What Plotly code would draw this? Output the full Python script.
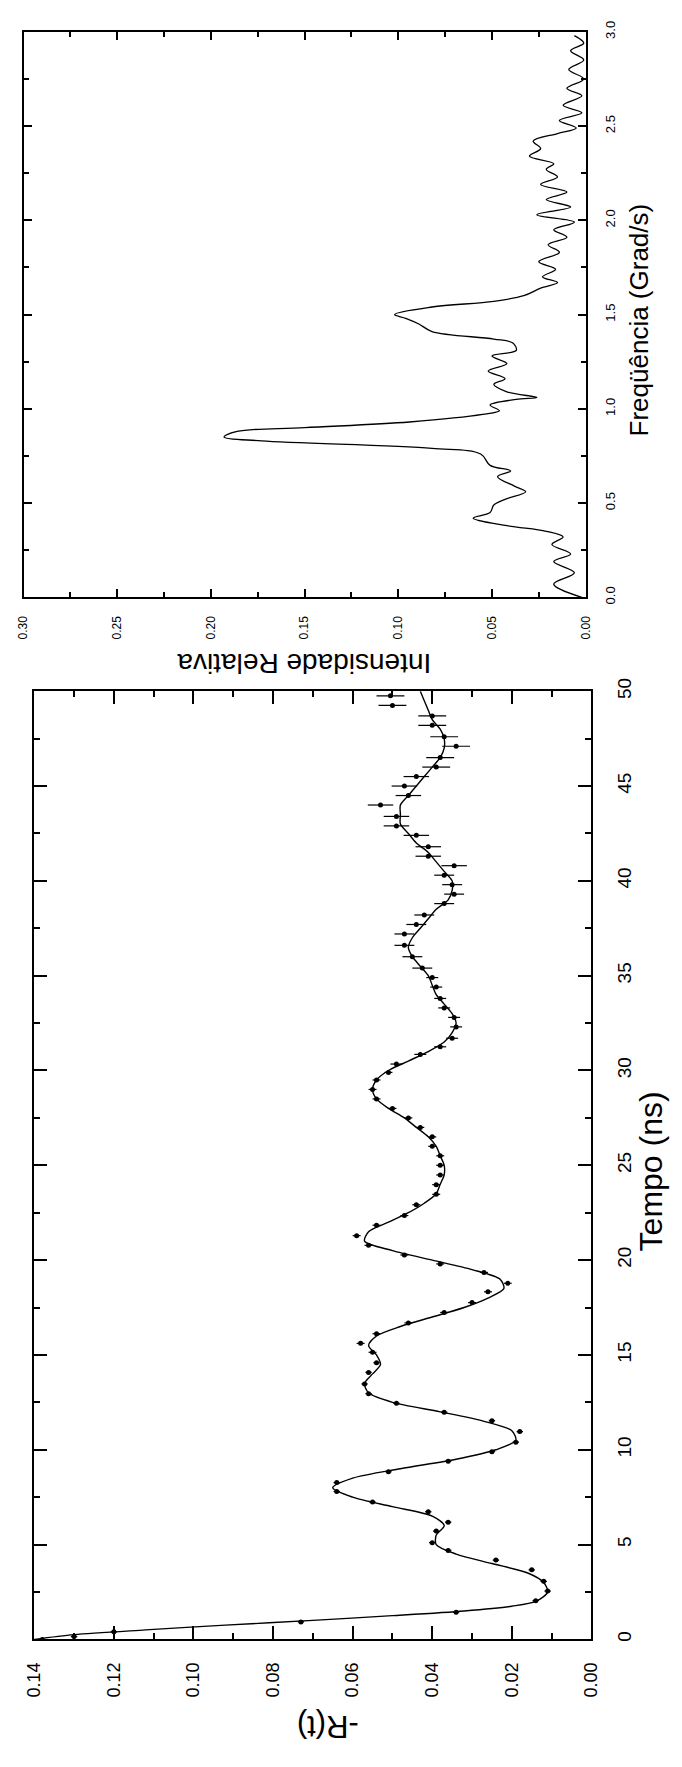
import plotly.graph_objects as go

W, H = 682, 1767

# ---------------- data: -R(t) vs Tempo ----------------
r_t = [0.0, 0.15, 0.4, 0.92, 1.43, 2.04, 2.55, 3.06, 3.67, 4.18,
       4.69, 5.1, 5.71, 6.18, 6.73, 7.24, 7.8, 8.27, 8.84, 9.39,
       9.9, 10.4, 10.96, 11.53, 11.98, 12.45, 12.96, 13.47, 14.08, 14.59,
       15.14, 15.61, 16.12, 16.69, 17.24, 17.76, 18.33, 18.78, 19.35, 19.8,
       20.27, 20.78, 21.29, 21.84, 22.35, 22.92, 23.47, 23.98, 24.49, 25.0,
       25.5, 26.0, 26.5, 27.0, 27.5, 28.0, 28.5, 29.0, 29.5, 29.9,
       30.34, 30.85, 31.25, 31.7, 32.3, 32.8, 33.3, 33.8, 34.4, 34.9,
       35.4, 36.0, 36.6, 37.2, 37.7, 38.2, 38.8, 39.3, 39.8, 40.3,
       40.8, 41.3, 41.8, 42.4, 42.9, 43.4, 44.0, 44.5, 45.0, 45.5,
       46.0, 46.5, 47.1, 47.6, 48.2, 48.7, 49.25, 49.76]
r_v = [0.138, 0.130, 0.120, 0.073, 0.034, 0.014, 0.011, 0.012, 0.015, 0.024,
       0.036, 0.040, 0.039, 0.036, 0.041, 0.055, 0.064, 0.064, 0.051, 0.036,
       0.025, 0.019, 0.018, 0.025, 0.037, 0.049, 0.056, 0.057, 0.056, 0.054,
       0.055, 0.058, 0.054, 0.046, 0.037, 0.030, 0.026, 0.021, 0.027, 0.038,
       0.047, 0.056, 0.059, 0.054, 0.047, 0.044, 0.039, 0.039, 0.038, 0.038,
       0.038, 0.040, 0.040, 0.043, 0.046, 0.050, 0.054, 0.055, 0.054, 0.051,
       0.049, 0.043, 0.038, 0.035, 0.034, 0.0345, 0.037, 0.038, 0.039, 0.040,
       0.0425, 0.045, 0.047, 0.047, 0.044, 0.042, 0.037, 0.0345, 0.035, 0.037,
       0.0345, 0.041, 0.041, 0.044, 0.049, 0.049, 0.053, 0.046, 0.047, 0.044,
       0.039, 0.038, 0.034, 0.037, 0.040, 0.040, 0.050, 0.0505]
r_err = [0.0008] * 30 + [0.001] * 30 + [0.0015] * 10 + [0.0025] * 10 + \
        [0.0032] * 10 + [0.0035] * 8

fit_t = [0, 0.25, 0.5, 0.75, 1.0, 1.25, 1.5, 1.75, 2.0, 2.5, 3.0, 3.5, 4.0, 4.5,
         5.0, 5.5, 6.0, 6.5, 7.0, 7.5, 8.0, 8.5, 9.0, 9.5, 10.0, 10.5, 11.0,
         11.5, 12.0, 12.5, 13.0, 13.5, 14.0, 14.5, 15.0, 15.5, 16.0, 16.5,
         17.0, 17.5, 18.0, 18.5, 19.0, 19.5, 20.0, 20.5, 21.0, 21.5, 22.0,
         22.5, 23.0, 23.5, 24.0, 24.5, 25.0, 25.5, 26.0, 26.5, 27.0, 27.5,
         28.0, 28.5, 29.0, 29.5, 30.0, 30.5, 31.0, 31.5, 32.0, 32.5, 33.0,
         33.5, 34.0, 34.5, 35.0, 35.5, 36.0, 36.5, 37.0, 37.5, 38.0, 38.5,
         39.0, 39.5, 40.0, 40.5, 41.0, 41.5, 42.0, 42.5, 43.0, 43.5, 44.0,
         44.5, 45.0, 45.5, 46.0, 46.5, 47.0, 47.5, 48.0, 48.5, 49.0, 49.5, 50.0]
fit_v = [0.140, 0.130, 0.112, 0.092, 0.070, 0.050, 0.032, 0.020, 0.014, 0.011,
         0.012, 0.016, 0.025, 0.034, 0.039, 0.039, 0.037, 0.040, 0.050, 0.060,
         0.065, 0.060, 0.048, 0.034, 0.024, 0.019, 0.020, 0.027, 0.038, 0.050,
         0.056, 0.057, 0.055, 0.053, 0.054, 0.056, 0.054, 0.048, 0.040, 0.032,
         0.026, 0.022, 0.023, 0.030, 0.040, 0.050, 0.057, 0.056, 0.051, 0.046,
         0.042, 0.039, 0.038, 0.037, 0.037, 0.038, 0.039, 0.041, 0.044, 0.047,
         0.051, 0.054, 0.055, 0.054, 0.051, 0.046, 0.041, 0.037, 0.035, 0.034,
         0.035, 0.037, 0.039, 0.040, 0.041, 0.043, 0.045, 0.046, 0.045, 0.043,
         0.041, 0.039, 0.036, 0.035, 0.035, 0.037, 0.039, 0.041, 0.044, 0.046,
         0.048, 0.048, 0.048, 0.046, 0.044, 0.042, 0.040, 0.038, 0.037, 0.037,
         0.038, 0.040, 0.041, 0.042, 0.043]

# ---------------- data: spectrum ----------------
freq = [0.00, 0.07, 0.13, 0.19, 0.23, 0.28, 0.32, 0.35, 0.38, 0.42,
        0.45, 0.49, 0.52, 0.56, 0.59, 0.64, 0.67, 0.70, 0.76, 0.79,
        0.83, 0.85, 0.88, 0.90, 0.93, 0.97, 0.99, 1.02, 1.05, 1.06,
        1.09, 1.13, 1.16, 1.20, 1.24, 1.28, 1.31, 1.35, 1.37, 1.41,
        1.45, 1.48, 1.50, 1.54, 1.57, 1.60, 1.64, 1.67, 1.70, 1.74,
        1.78, 1.83, 1.87, 1.91, 1.95, 1.99, 2.03, 2.07, 2.11, 2.15,
        2.19, 2.23, 2.27, 2.30, 2.34, 2.38, 2.42, 2.46, 2.49, 2.53,
        2.57, 2.61, 2.66, 2.70, 2.75, 2.80, 2.85, 2.90, 2.94, 2.98]
intens = [0.002, 0.017, 0.006, 0.017, 0.008, 0.018, 0.012, 0.021, 0.042, 0.060,
          0.051, 0.049, 0.043, 0.032, 0.038, 0.047, 0.040, 0.051, 0.056, 0.082,
          0.173, 0.193, 0.186, 0.150, 0.094, 0.055, 0.046, 0.051, 0.037, 0.026,
          0.042, 0.049, 0.043, 0.052, 0.042, 0.050, 0.037, 0.039, 0.049, 0.082,
          0.089, 0.096, 0.102, 0.082, 0.049, 0.033, 0.024, 0.015, 0.023, 0.016,
          0.025, 0.014, 0.020, 0.010, 0.017, 0.006, 0.026, 0.008, 0.021, 0.010,
          0.024, 0.015, 0.021, 0.017, 0.030, 0.024, 0.028, 0.015, 0.005, 0.014,
          0.002, 0.012, 0.002, 0.010, 0.001, 0.009, 0.001, 0.008, 0.001, 0.006]

r_ticks = [0.00, 0.02, 0.04, 0.06, 0.08, 0.10, 0.12, 0.14]
t_ticks = [0, 5, 10, 15, 20, 25, 30, 35, 40, 45, 50]
i_ticks = [0.00, 0.05, 0.10, 0.15, 0.20, 0.25, 0.30]
f_ticks = [0.0, 0.5, 1.0, 1.5, 2.0, 2.5, 3.0]

FONT = "Liberation Sans, Arial, sans-serif"


def px_x(x):
    return x / W


def px_y(y):
    return 1 - y / H


fig = go.Figure()

fig.add_trace(go.Scatter(
    x=fit_v, y=fit_t, mode="lines", xaxis="x", yaxis="y",
    line=dict(color="black", width=1.4, shape="spline", smoothing=0.8),
    hoverinfo="skip"))
fig.add_trace(go.Scatter(
    x=r_v, y=r_t, mode="markers", xaxis="x", yaxis="y",
    marker=dict(color="black", size=5),
    error_x=dict(type="data", array=r_err, color="black", thickness=1.2, width=0)))
fig.add_trace(go.Scatter(
    x=intens, y=freq, mode="lines", xaxis="x2", yaxis="y2",
    line=dict(color="black", width=1.3, shape="spline", smoothing=1.0)))

common = dict(showline=True, linecolor="black", linewidth=2, mirror="ticks",
              ticks="inside", tickcolor="black", showgrid=False, zeroline=False,
              tickangle=-90)

fig.update_layout(
    width=W, height=H,
    margin=dict(l=0, r=0, t=0, b=0),
    paper_bgcolor="white", plot_bgcolor="white",
    showlegend=False,
    font=dict(family=FONT, color="black"),
    xaxis=dict(domain=[px_x(25), px_x(599)], anchor="y", range=[0.14, 0.0],
               tickvals=r_ticks, tickformat=".2f", ticklen=13, tickwidth=2,
               minor=dict(dtick=0.01, tick0=0, ticklen=6, ticks="inside", tickcolor="black", tickwidth=2),
               tickfont=dict(size=18), ticklabelstandoff=14, **common),
    yaxis=dict(domain=[px_y(1645), px_y(686)], anchor="x", range=[0, 50], side="right",
               tickvals=t_ticks, ticklen=13, tickwidth=2,
               minor=dict(dtick=2.5, tick0=0, ticklen=6, ticks="inside", tickcolor="black", tickwidth=2),
               tickfont=dict(size=19), ticklabelstandoff=15, **common),
    xaxis2=dict(domain=[px_x(14), px_x(593)], anchor="y2", range=[0.30, 0.0],
                tickvals=i_ticks, tickformat=".2f", ticklen=8, tickwidth=1.5,
                minor=dict(dtick=0.025, tick0=0, ticklen=5, ticks="inside", tickcolor="black", tickwidth=1.5),
                tickfont=dict(size=12), ticklabelstandoff=12, **common),
    yaxis2=dict(domain=[px_y(591), px_y(19)], anchor="x2", range=[0, 3.0], side="right",
                tickvals=f_ticks, tickformat=".1f", ticklen=8, tickwidth=1.5,
                minor=dict(dtick=0.25, tick0=0, ticklen=5, ticks="inside", tickcolor="black", tickwidth=1.5),
                tickfont=dict(size=13), ticklabelstandoff=12, **common),
    annotations=[
        dict(text="-R(t)", x=px_x(327), y=px_y(1733), xref="paper", yref="paper",
             showarrow=False, textangle=180, font=dict(size=31, family=FONT),
             xanchor="center", yanchor="middle"),
        dict(text="Tempo (ns)", x=px_x(660), y=px_y(1172), xref="paper", yref="paper",
             showarrow=False, textangle=-90, font=dict(size=32, family=FONT),
             xanchor="center", yanchor="middle"),
        dict(text="Freqüência (Grad/s)", x=px_x(649), y=px_y(310), xref="paper", yref="paper",
             showarrow=False, textangle=-90, font=dict(size=26, family=FONT),
             xanchor="center", yanchor="middle"),
        dict(text="Intensidade Relativa", x=px_x(303), y=px_y(658), xref="paper", yref="paper",
             showarrow=False, textangle=180, font=dict(size=28, family=FONT),
             xanchor="center", yanchor="middle"),
    ],
)

fig.write_html("out.html")
